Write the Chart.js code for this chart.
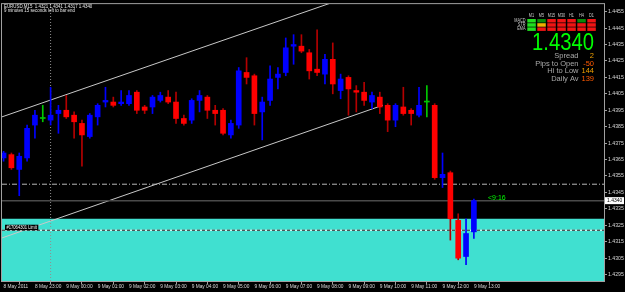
<!DOCTYPE html>
<html>
<head>
<meta charset="utf-8">
<script src="https://cdn.jsdelivr.net/npm/chart.js@4.4.1/dist/chart.umd.min.js"></script>
<style>
  html, body { margin: 0; padding: 0; background: #000; }
  #wrap { position: relative; width: 625px; height: 292px; }
</style>
</head>
<body>
<div id="wrap"><canvas id="chart"></canvas></div>
<script>
// EURUSD M15, bars from 8 May 22:00 to 9 May 13:00
const opens  = [1.4366,1.4368,1.4359,1.4366,1.4386,1.4390,1.4389,1.4393,1.4395,1.4392,
                1.4387,1.4379,1.4391,1.4400,1.4400,1.4399,1.4399,1.4406,1.4397,1.4397,
                1.4401,1.4403,1.4400,1.4390,1.4389,1.4401,1.4403,1.4395,1.4395,1.4380,
                1.4386,1.4418,1.4416,1.4394,1.4401,1.4415,1.4418,1.4434,1.4434,1.4430,
                1.4420,1.4417,1.4426,1.4407,1.4415,1.4407,1.4406,1.4400,1.4403,1.4398,
                1.4389,1.4397,1.4395,1.4392,1.4400,1.4398,1.4354,1.4357,1.4328,1.4306,
                1.4321];
const highs  = [1.4370,1.4369,1.4369,1.4386,1.4395,1.4398,1.4409,1.4398,1.4404,1.4394,
                1.4389,1.4393,1.4399,1.4409,1.4403,1.4407,1.4407,1.4407,1.4398,1.4404,
                1.4406,1.4407,1.4406,1.4392,1.4402,1.4407,1.4404,1.4398,1.4396,1.4389,
                1.4421,1.4427,1.4417,1.4403,1.4422,1.4421,1.4439,1.4441,1.4441,1.4432,
                1.4444,1.4429,1.4436,1.4417,1.4416,1.4410,1.4412,1.4406,1.4406,1.4399,
                1.4399,1.4409,1.4396,1.4409,1.4410,1.4399,1.4369,1.4358,1.4332,1.4329,
                1.4341];
const lows   = [1.4364,1.4359,1.4343,1.4364,1.4378,1.4388,1.4386,1.4381,1.4390,1.4378,
                1.4361,1.4378,1.4386,1.4397,1.4397,1.4398,1.4398,1.4393,1.4393,1.4393,
                1.4400,1.4399,1.4387,1.4386,1.4387,1.4394,1.4390,1.4386,1.4380,1.4378,
                1.4384,1.4411,1.4386,1.4377,1.4398,1.4408,1.4416,1.4423,1.4430,1.4414,
                1.4416,1.4411,1.4405,1.4402,1.4392,1.4394,1.4398,1.4396,1.4393,1.4382,
                1.4385,1.4392,1.4386,1.4391,1.4391,1.4353,1.4348,1.4316,1.4304,1.4301,
                1.4317];
const closes = [1.4369,1.4360,1.4367,1.4384,1.4392,1.4390,1.4392,1.4395,1.4391,1.4388,
                1.4380,1.4392,1.4398,1.4401,1.4398,1.4400,1.4404,1.4395,1.4395,1.4403,
                1.4404,1.4400,1.4390,1.4387,1.4401,1.4404,1.4395,1.4393,1.4381,1.4387,
                1.4419,1.4415,1.4393,1.4400,1.4414,1.4417,1.4433,1.4435,1.4431,1.4419,
                1.4418,1.4426,1.4411,1.4414,1.4408,1.4406,1.4401,1.4404,1.4397,1.4389,
                1.4398,1.4393,1.4393,1.4398,1.4400,1.4354,1.4356,1.4329,1.4305,1.4320,
                1.4340];

// one time label every 4 bars (1 hour)
const timeLabels = ['8 May 2011','8 May 23:00','9 May 00:00','9 May 01:00','9 May 02:00',
                    '9 May 03:00','9 May 04:00','9 May 05:00','9 May 06:00','9 May 07:00',
                    '9 May 08:00','9 May 09:00','9 May 10:00','9 May 11:00','9 May 12:00',
                    '9 May 13:00'];
const priceTicks = [1.4295,1.4305,1.4315,1.4325,1.4335,1.4345,1.4355,1.4365,1.4375,
                    1.4385,1.4395,1.4405,1.4415,1.4425,1.4435,1.4445,1.4455];

// objects on the chart
const bidPrice = 1.4340;
const openLevel = 1.4350;
const orderPrice = 1.4322;
const zoneTop = 1.4329;
const separatorBar = 6;
const upperChannel = [[-0.2, 1.4391], [42, 1.44607]];
const lowerChannel = [[-0.2, 1.43173], [48.4, 1.43981]];

// info panel
const timeframes = ['M1','M5','M15','M30','H1','H4','D1'];
const signalRows = ['MACD','STR','EMA'];
const signals = [
  ['up','hold','down','down','down','hold','down'],
  ['up','wait','down','down','down','down','down'],
  ['up','down','down','down','down','down','down'],
];
const statLabels = ['Spread','Pips to Open','Hi to Low','Daily Av'];
const statValues = ['2','-50','144','139'];
const statColors = ['#f0a000','#ff5a00','#f0a000','#ff5a00'];
const headerText = 'EURUSD,M15  1.4321 1.4341 1.4317 1.4340';
const timerText = '9 minutes 15 seconds left to bar end';
const orderText = '#17064301 Limit';
const countdown = '<9:16';

const SANS = '"Liberation Sans", Arial, sans-serif';
const signalColors = { up: '#20e020', hold: '#0a8a0a', wait: '#f0b000', down: '#f01414' };

const xMin = -0.2, xMax = 76.6;
const yMin = 1.42911, yMax = 1.44596;

const idx = closes.map((_, i) => i);
const dir = idx.map(i => Math.sign(closes[i] - opens[i]));
const bodyColors = dir.map(d => d > 0 ? '#0000ff' : d < 0 ? '#ff0000' : '#00c800');
const wickColors = dir.map(d => d > 0 ? '#0000ff' : d < 0 ? '#b40000' : '#00c800');

const hline = v => [{ x: xMin, y: v }, { x: xMax, y: v }];
const seg = pts => pts.map(p => ({ x: p[0], y: p[1] }));
const lineDs = (data, color, extra) => Object.assign({
  type: 'line', data, borderColor: color, borderWidth: 1,
  pointRadius: 0, tension: 0, fill: false
}, extra || {});

// text squeezed horizontally, like the terminal's narrow font
function narrowText(ctx, text, x, y, sx) {
  ctx.save();
  ctx.translate(x, y);
  ctx.scale(sx, 1);
  ctx.fillText(text, 0, 0);
  ctx.restore();
}

const overlay = {
  id: 'overlay',
  afterDraw(chart) {
    const { ctx, chartArea: a, scales: { x, y } } = chart;
    ctx.save();
    // frame
    ctx.strokeStyle = '#a0a0a0';
    ctx.lineWidth = 1;
    ctx.strokeRect(a.left - 0.5, a.top - 0.5, a.right - a.left + 1, a.bottom - a.top + 1);

    // header text
    ctx.fillStyle = '#e8e8e8';
    ctx.textAlign = 'left';
    ctx.textBaseline = 'middle';
    ctx.font = '5.5px ' + SANS;
    narrowText(ctx, headerText, 4, 6, 0.8);
    narrowText(ctx, timerText, 4, 10.5, 0.8);

    // signal table
    ctx.font = '4.5px ' + SANS;
    ctx.fillStyle = '#c8c8c8';
    ctx.textAlign = 'center';
    timeframes.forEach((tf, c) => narrowText(ctx, tf, 531.5 + c * 10, 16, 0.85));
    ctx.textAlign = 'right';
    signalRows.forEach((r, k) => narrowText(ctx, r, 525.5, 20.8 + k * 4.2, 0.85));
    signals.forEach((row, k) => row.forEach((s, c) => {
      ctx.fillStyle = signalColors[s];
      ctx.fillRect(527.3 + c * 10, 19 + k * 4.2, 8.5, 3.5);
    }));

    // big price
    ctx.fillStyle = '#00ff00';
    ctx.font = '23px ' + SANS;
    ctx.textAlign = 'right';
    ctx.textBaseline = 'alphabetic';
    narrowText(ctx, closes[closes.length - 1].toFixed(4), 594, 50, 0.88);

    // stats
    ctx.font = '7.5px ' + SANS;
    ctx.textBaseline = 'middle';
    statLabels.forEach((l, k) => {
      ctx.textAlign = 'right';
      ctx.fillStyle = '#a8a8a8';
      ctx.fillText(l, 578.5, 56 + k * 7.6);
      ctx.fillStyle = statColors[k];
      ctx.fillText(statValues[k], 594, 56 + k * 7.6);
    });

    // countdown next to the last bar
    const bidPx = y.getPixelForValue(bidPrice);
    ctx.fillStyle = '#00ff00';
    ctx.font = '7px ' + SANS;
    ctx.textAlign = 'left';
    ctx.textBaseline = 'alphabetic';
    ctx.fillText(countdown, x.getPixelForValue(closes.length - 1 + 1.8), bidPx - 0.5);

    // pending order label
    const ordPx = y.getPixelForValue(orderPrice);
    ctx.font = '5px ' + SANS;
    const w = ctx.measureText(orderText).width * 0.82;
    ctx.fillStyle = '#000';
    ctx.fillRect(5, ordPx - 5.5, w + 3, 5.5);
    ctx.fillStyle = '#ffffff';
    ctx.textBaseline = 'middle';
    narrowText(ctx, orderText, 6.5, ordPx - 2.6, 0.82);

    // bid price box on the axis
    ctx.fillStyle = '#ffffff';
    ctx.fillRect(a.right + 1, bidPx - 3.5, 19, 7);
    ctx.fillStyle = '#000';
    ctx.font = '5.5px ' + SANS;
    ctx.textAlign = 'left';
    narrowText(ctx, bidPrice.toFixed(4), a.right + 3, bidPx + 0.2, 0.9);
    ctx.restore();
  }
};

new Chart(document.getElementById('chart'), {
  type: 'bar',
  data: {
    datasets: [
      { type: 'bar', data: idx.map(i => ({ x: i, y: [opens[i], closes[i]] })),
        backgroundColor: bodyColors, barThickness: 5, grouped: false, minBarLength: 1 },
      { type: 'bar', data: idx.map(i => ({ x: i, y: [lows[i], highs[i]] })),
        backgroundColor: wickColors, barThickness: 1, grouped: false },
      lineDs(hline(orderPrice), '#1a1a1a', { borderDash: [3, 2] }),
      lineDs(hline(orderPrice), '#ffffff'),
      lineDs(hline(bidPrice), '#4a4a4a', { borderWidth: 1.5 }),
      lineDs(hline(openLevel), '#b8b8b8', { borderDash: [5, 2, 1, 2] }),
      lineDs([{ x: separatorBar, y: yMin }, { x: separatorBar, y: yMax }], '#909090', { borderDash: [1, 2] }),
      lineDs(seg(upperChannel), '#c8c8c8'),
      lineDs(seg(lowerChannel), '#c8c8c8'),
      lineDs(hline(zoneTop), 'rgba(0,0,0,0)', { borderWidth: 0, fill: 'start', backgroundColor: '#40e0d0' })
    ]
  },
  options: {
    responsive: true,
    maintainAspectRatio: false,
    animation: false,
    devicePixelRatio: 1,
    layout: { padding: { left: 2, top: 2, right: 0, bottom: 0 } },
    plugins: { legend: { display: false }, tooltip: { enabled: false } },
    scales: {
      x: {
        type: 'linear', min: xMin, max: xMax, offset: false,
        grid: { drawOnChartArea: false, tickLength: 3, color: '#a0a0a0' },
        border: { color: '#a0a0a0' },
        afterBuildTicks: s => { s.ticks = timeLabels.map((_, k) => ({ value: k * 4 })); },
        afterFit: s => { s.height = 11; },
        ticks: {
          autoSkip: false, maxRotation: 0, align: 'start', padding: 0,
          color: '#d8d8d8', font: { size: 4.8, family: SANS },
          callback: v => timeLabels[Math.round(v / 4)]
        }
      },
      y: {
        type: 'linear', position: 'right', min: yMin, max: yMax,
        grid: { drawOnChartArea: false, tickLength: 3, color: '#a0a0a0' },
        border: { color: '#a0a0a0' },
        afterBuildTicks: s => { s.ticks = priceTicks.map(v => ({ value: v })); },
        afterFit: s => { s.width = 21; },
        ticks: {
          autoSkip: false, padding: 1, color: '#d8d8d8', font: { size: 5.2, family: SANS },
          callback: v => v.toFixed(4)
        }
      }
    }
  },
  plugins: [overlay]
});
</script>
</body>
</html>
